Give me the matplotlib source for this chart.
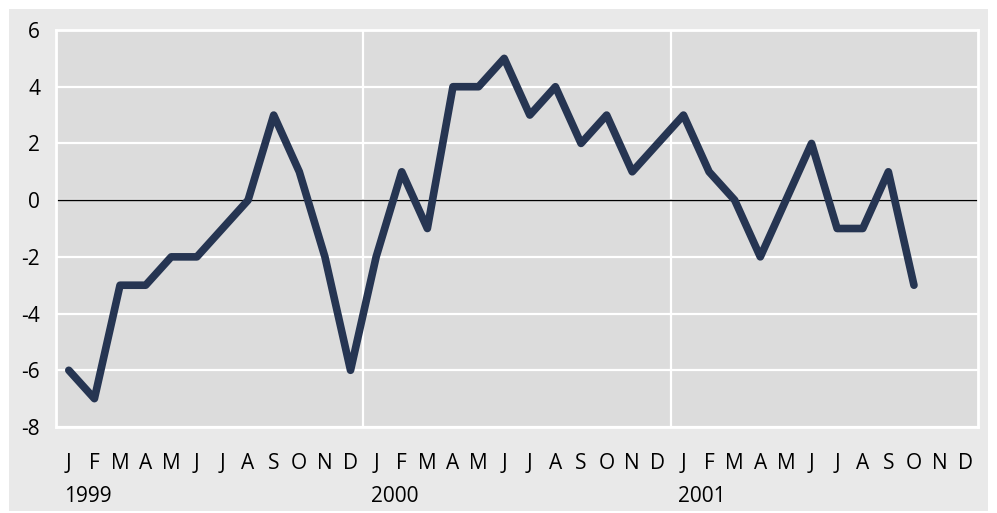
import matplotlib.pyplot as plt
from matplotlib.patches import Rectangle

plt.rcParams["font.family"] = ["Open Sans", "DejaVu Sans"]

years = ["1999", "2000", "2001"]
month_letters = ["J", "F", "M", "A", "M", "J", "J", "A", "S", "O", "N", "D"]
values = [
    -6, -7, -3, -3, -2, -2, -1, 0, 3, 1, -2, -6,
    -2, 1, -1, 4, 4, 5, 3, 4, 2, 3, 1, 2,
    3, 1, 0, -2, 0, 2, -1, -1, 1, -3,
]
y_ticks = [-8, -6, -4, -2, 0, 2, 4, 6]


def main():
    W, H = 997, 513
    fig = plt.figure(figsize=(W / 100, H / 100), dpi=100, facecolor="white")

    # outer light grey panel
    fig.patches.append(Rectangle((9 / W, 2 / H), 979 / W, 502 / H,
                                 transform=fig.transFigure, facecolor="#e9e9e9",
                                 edgecolor="none", zorder=-5))

    ax = fig.add_axes([56 / W, (H - 427) / H, 922 / W, 397 / H])
    ax.set_facecolor("#dcdcdc")
    for s in ax.spines.values():
        s.set_color("white")
        s.set_linewidth(2)

    n_months = 12 * len(years)
    ax.set_xlim(0, n_months)
    ax.set_ylim(-8, 6)

    for y in y_ticks:
        ax.axhline(y, color="white", lw=1.6, zorder=1)
    for i in range(1, len(years)):
        ax.axvline(12 * i, color="white", lw=1.6, zorder=1)
    ax.axhline(0, color="black", lw=1, zorder=2)

    xs = [i + 0.5 for i in range(len(values))]
    ax.plot(xs, values, color="#263552", lw=5.5, solid_joinstyle="round",
            solid_capstyle="round", zorder=3)

    fs = 15
    ax.set_yticks(y_ticks)
    ax.set_yticklabels([str(v) for v in y_ticks], fontsize=fs)
    ax.tick_params(axis="y", length=0, pad=11.5)
    ax.set_xticks([i + 0.5 for i in range(n_months)])
    ax.set_xticklabels(month_letters * len(years), fontsize=fs)
    ax.tick_params(axis="x", length=0, pad=19)

    for i, yr in enumerate(years):
        ax.text(12 * i + 0.3, -0.174, yr, transform=ax.get_xaxis_transform(),
                fontsize=fs, ha="left", va="center")

    fig.savefig("out.png", dpi=100, facecolor="white")
    plt.close(fig)


if __name__ == "__main__":
    main()
